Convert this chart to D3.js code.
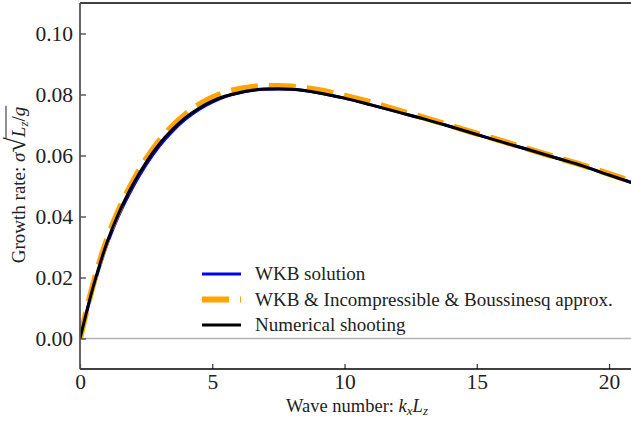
<!DOCTYPE html>
<html lang="en">
<head>
<meta charset="UTF-8">
<script src="https://d3js.org/d3.v7.min.js"></script>
<style>
  body { margin: 0; background: #fff; }
  svg { display: block; }
  text { font-family: "Liberation Serif", "DejaVu Serif", serif; fill: #222; }
</style>
</head>
<body>
<div id="chart"></div>
<script>
// ---- data ----
var kValues = [0, 0.5, 1, 1.5, 2, 2.5, 3, 3.5, 4, 4.5, 5, 5.5, 6, 6.5, 7, 7.5, 8,
               9, 10, 11, 12, 13, 14, 15, 16, 17, 18, 19, 20, 21];
var wkbRate = [0, 0.0166, 0.0303, 0.0410, 0.0497, 0.0570, 0.0631, 0.0680, 0.0720, 0.0751,
               0.0775, 0.0793, 0.0805, 0.0813, 0.0817, 0.0818, 0.0817,
               0.0806, 0.0788, 0.0766, 0.0743, 0.0720, 0.0695, 0.0669, 0.0643, 0.0618,
               0.0592, 0.0566, 0.0536, 0.0507];
var approxRate = [0, 0.0178, 0.0320, 0.0428, 0.0515, 0.0589, 0.0649, 0.0697, 0.0736, 0.0767,
               0.0790, 0.0807, 0.0818, 0.0825, 0.0828, 0.0828, 0.0826,
               0.0815, 0.0796, 0.0774, 0.0749, 0.0724, 0.0698, 0.0672, 0.0646, 0.0620,
               0.0594, 0.0568, 0.0540, 0.0510];
var shootRate = [0, 0.0170, 0.0310, 0.0418, 0.0505, 0.0578, 0.0638, 0.0686, 0.0725, 0.0755,
               0.0778, 0.0795, 0.0806, 0.0814, 0.0818, 0.0819, 0.0817,
               0.0806, 0.0788, 0.0766, 0.0743, 0.0720, 0.0695, 0.0669, 0.0643, 0.0618,
               0.0592, 0.0566, 0.0536, 0.0507];
var xTicks = [0, 5, 10, 15, 20];
var yTicks = [0, 0.02, 0.04, 0.06, 0.08, 0.10];
var legendNames = ["WKB solution", "WKB & Incompressible & Boussinesq approx.", "Numerical shooting"];

function drawChart() {
  var W = 631, H = 425;
  var mLeft = 80, mRight = 631, mTop = 3, mBottom = 369;

  var svg = d3.select("#chart").append("svg")
      .attr("width", W).attr("height", H);

  var x = d3.scaleLinear().domain([0, 20.83]).range([mLeft, mRight]);
  var y = d3.scaleLinear().domain([-0.01, 0.11]).range([mBottom, mTop]);

  svg.append("clipPath").attr("id", "plotclip")
    .append("rect").attr("x", mLeft).attr("y", mTop)
    .attr("width", mRight - mLeft).attr("height", mBottom - mTop);

  // zero line
  svg.append("line")
      .attr("x1", mLeft).attr("x2", mRight)
      .attr("y1", y(0)).attr("y2", y(0))
      .attr("stroke", "#b3b3b3").attr("stroke-width", 1.6);

  // curves
  function series(vals) {
    return kValues.map(function(k, i) { return [k, vals[i]]; });
  }
  var line = d3.line()
      .x(function(d) { return x(d[0]); })
      .y(function(d) { return y(d[1]); })
      .curve(d3.curveMonotoneX);

  var plot = svg.append("g").attr("clip-path", "url(#plotclip)");
  var styles = [
    {vals: wkbRate, color: "#0000ff", width: 3, dash: null},
    {vals: approxRate, color: "#ffa500", width: 6, dash: "27 11"},
    {vals: shootRate, color: "#000000", width: 3, dash: null}
  ];
  styles.forEach(function(s) {
    plot.append("path")
        .datum(series(s.vals))
        .attr("d", line)
        .attr("fill", "none")
        .attr("stroke", s.color)
        .attr("stroke-width", s.width)
        .attr("stroke-dasharray", s.dash);
  });

  // axes (ticks point inward)
  var xAxis = svg.append("g")
      .attr("transform", "translate(0," + mBottom + ")")
      .call(d3.axisTop(x).tickValues(xTicks).tickSize(5).tickFormat(d3.format("d")));
  xAxis.select(".domain").remove();
  xAxis.selectAll(".tick text")
      .attr("y", 20).attr("dy", "0")
      .style("font-size", "21.5px");

  var yAxis = svg.append("g")
      .attr("transform", "translate(" + mLeft + ",0)")
      .call(d3.axisRight(y).tickValues(yTicks).tickSize(6).tickFormat(d3.format(".2f")));
  yAxis.select(".domain").remove();
  yAxis.selectAll(".tick text")
      .attr("x", -7).attr("text-anchor", "end")
      .style("font-size", "21.5px");
  svg.selectAll(".tick line").attr("stroke", "#333").attr("stroke-width", 1.2);
  svg.selectAll(".tick text").attr("fill", "#222").style("font-family", "Liberation Serif, serif");

  // spines
  svg.append("line").attr("x1", mLeft).attr("x2", mRight).attr("y1", mTop).attr("y2", mTop)
      .attr("stroke", "#000").attr("stroke-width", 1.3);
  svg.append("line").attr("x1", mLeft).attr("x2", mRight).attr("y1", mBottom).attr("y2", mBottom)
      .attr("stroke", "#000").attr("stroke-width", 1.3);
  svg.append("line").attr("x1", mLeft).attr("x2", mLeft).attr("y1", mTop).attr("y2", mBottom)
      .attr("stroke", "#555").attr("stroke-width", 1.8);

  // legend
  var legend = svg.append("g");
  styles.forEach(function(s, i) {
    var ly = 274 + i * 25.5;
    legend.append("line")
        .attr("x1", 202).attr("x2", 241).attr("y1", ly).attr("y2", ly)
        .attr("stroke", s.color)
        .attr("stroke-width", s.width)
        .attr("stroke-dasharray", s.dash);
    legend.append("text")
        .attr("x", 255).attr("y", ly).attr("dy", "0.32em")
        .style("font-size", "19px")
        .text(legendNames[i]);
  });

  // x label
  var xl = svg.append("text")
      .attr("x", 357).attr("y", 412)
      .attr("text-anchor", "middle")
      .style("font-size", "18.5px");
  xl.append("tspan").text("Wave number:  ");
  xl.append("tspan").style("font-style", "italic").text("k");
  xl.append("tspan").attr("baseline-shift", "-25%").style("font-size", "13px").style("font-style", "italic").text("x");
  xl.append("tspan").attr("baseline-shift", "0").style("font-style", "italic").text("L");
  xl.append("tspan").attr("baseline-shift", "-25%").style("font-size", "13px").style("font-style", "italic").text("z");

  // y label with square root
  var yl = svg.append("g").attr("transform", "translate(25,185) rotate(-90)");
  var yt = yl.append("text")
      .attr("text-anchor", "middle")
      .style("font-size", "19px");
  yt.append("tspan").text("Growth rate:  ");
  yt.append("tspan").style("font-style", "italic").text("\u03c3");
  yt.append("tspan").style("font-size", "28px").text("\u221a");
  yt.append("tspan").style("font-style", "italic").text("L");
  yt.append("tspan").attr("baseline-shift", "-25%").style("font-size", "13px").style("font-style", "italic").text("z");
  yt.append("tspan").attr("baseline-shift", "0").text("/");
  yt.append("tspan").style("font-style", "italic").text("g");
  var node = yt.node();
  var n = node.getNumberOfChars();
  var startRad = node.getEndPositionOfChar(n - 5);
  var endRad = node.getEndPositionOfChar(n - 1);
  yl.append("line")
      .attr("x1", startRad.x - 1).attr("x2", endRad.x + 1)
      .attr("y1", -19).attr("y2", -19)
      .attr("stroke", "#222").attr("stroke-width", 1);
}

drawChart();
</script>
</body>
</html>
